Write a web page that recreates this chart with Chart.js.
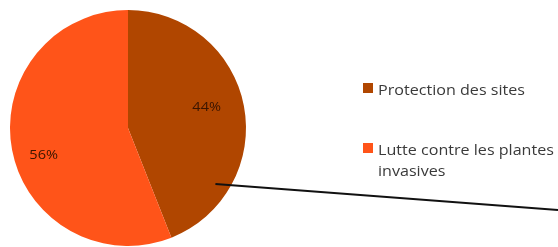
<!DOCTYPE html>
<html>
<head>
<meta charset="utf-8">
<script src="https://cdn.jsdelivr.net/npm/chart.js@4/dist/chart.umd.min.js"></script>
<style>
  html, body { margin: 0; padding: 0; background: #fff; }
  #pieChart { display: block; }
</style>
</head>
<body>
<canvas id="pieChart" width="558" height="247"></canvas>
<script>
    /*global Chart*/
    var categories = ["Protection des sites", "Lutte contre les plantes invasives"];
    var legendLines = [["Protection des sites"], ["Lutte contre les plantes", "invasives"]];
    var shares = [44, 56];
    var sliceColors = ["#b04600", "#ff5419"];

    // labels in the slices + custom legend + callout line
    var decorPlugin = {
        id: 'decor',
        afterDatasetsDraw: function (chart) {
            var ctx = chart.ctx;
            var arcs = chart.getDatasetMeta(0).data;
            var nudge = [[0.69, -0.07], [0.75, -0.12]];   // radius fraction, angle shift
            ctx.save();
            ctx.font = '13px "Open Sans", "Noto Sans", sans-serif';
            ctx.fillStyle = '#3a1500';
            ctx.textAlign = 'center';
            ctx.textBaseline = 'middle';
            arcs.forEach(function (arc, i) {
                var mid = (arc.startAngle + arc.endAngle) / 2 + nudge[i][1];
                var r = arc.outerRadius * nudge[i][0];
                var x = arc.x + Math.cos(mid) * r, y = arc.y + Math.sin(mid) * r;
                ctx.save();
                ctx.translate(x, y);
                ctx.scale(1.12, 1);
                ctx.fillText(shares[i] + '%', 0, 0);
                ctx.restore();
            });

            // legend
            var lx = 363, ly = [83, 143];
            ctx.textAlign = 'left';
            ctx.font = '14px "Open Sans", "Noto Sans", sans-serif';
            legendLines.forEach(function (lines, i) {
                ctx.fillStyle = sliceColors[i];
                ctx.fillRect(lx, ly[i], 10, 10);
                ctx.fillStyle = '#3a3a3a';
                lines.forEach(function (t, j) {
                    ctx.save();
                    ctx.translate(lx + 15, ly[i] + 8 + j * 21);
                    ctx.scale(1.15, 1);
                    ctx.fillText(t, 0, 0);
                    ctx.restore();
                });
            });

            // callout line from the brown slice
            var a = arcs[0];
            var ang = 0.57;
            var sx = a.x + Math.cos(ang) * a.outerRadius * 0.88;
            var sy = a.y + Math.sin(ang) * a.outerRadius * 0.88;
            ctx.strokeStyle = '#111';
            ctx.lineWidth = 2;
            ctx.beginPath();
            ctx.moveTo(sx, sy);
            ctx.lineTo(chart.width, 210);
            ctx.stroke();
            ctx.restore();
        }
    };

    var pieData = {
        labels: categories,
        datasets: [{
            data: shares,
            backgroundColor: sliceColors,
            borderWidth: 0
        }]
    };

    var pieOptions = {
        responsive: false,
        animation: false,
        layout: { padding: { left: 10, top: 10, right: 312, bottom: 1 } },
        plugins: {
            legend: { display: false },
            tooltip: { enabled: false }
        }
    };

    var ctx = document.getElementById("pieChart").getContext("2d");
    new Chart(ctx, {type: 'pie', data: pieData, options: pieOptions, plugins: [decorPlugin]});
</script>
</body>
</html>
